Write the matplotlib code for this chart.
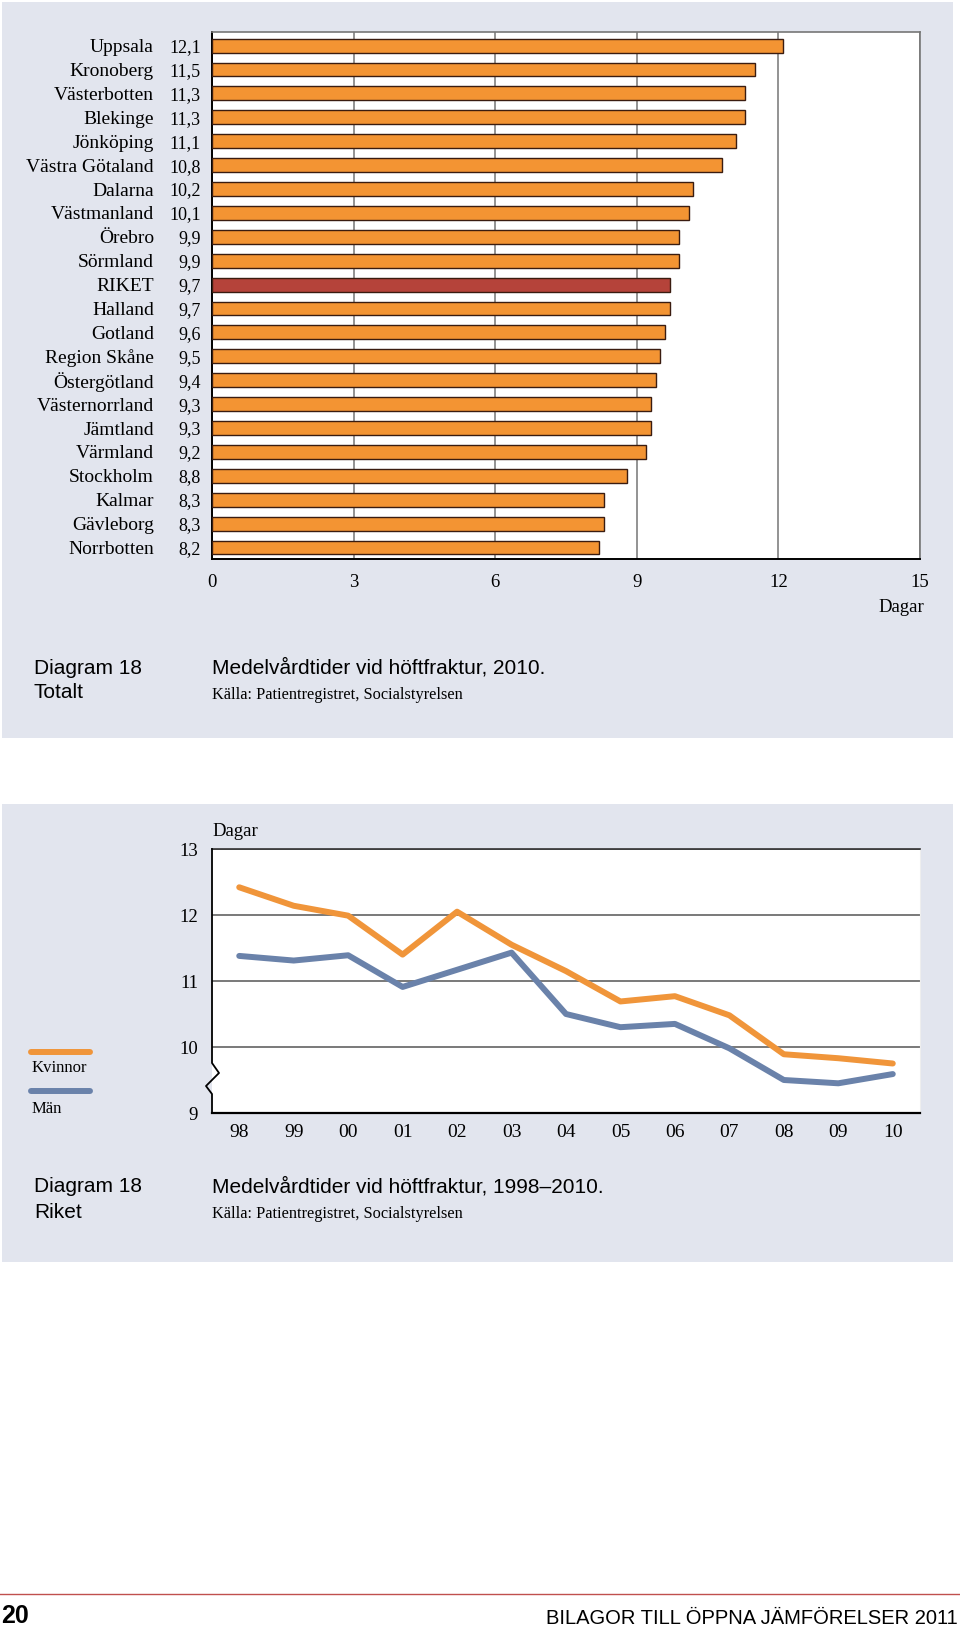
import matplotlib.pyplot as plt
import matplotlib.patches as mpatches
from matplotlib.lines import Line2D
import numpy as np

# data
lan = ['Uppsala', 'Kronoberg', 'Västerbotten', 'Blekinge', 'Jönköping',
       'Västra Götaland', 'Dalarna', 'Västmanland', 'Örebro', 'Sörmland',
       'RIKET', 'Halland', 'Gotland', 'Region Skåne', 'Östergötland',
       'Västernorrland', 'Jämtland', 'Värmland', 'Stockholm', 'Kalmar',
       'Gävleborg', 'Norrbotten']
dagar_2010 = [12.1, 11.5, 11.3, 11.3, 11.1, 10.8, 10.2, 10.1, 9.9, 9.9,
              9.7, 9.7, 9.6, 9.5, 9.4, 9.3, 9.3, 9.2, 8.8, 8.3, 8.3, 8.2]

ar = ['98', '99', '00', '01', '02', '03', '04', '05', '06', '07', '08', '09', '10']
kvinnor = [12.42, 12.14, 11.99, 11.40, 12.05, 11.55, 11.15, 10.69, 10.77, 10.48, 9.89, 9.83, 9.75]
man = [11.38, 11.31, 11.39, 10.91, 11.17, 11.43, 10.50, 10.30, 10.35, 9.98, 9.50, 9.45, 9.59]

W, H = 960, 1629
ORANGE = '#f39433'
RED = '#b5433a'
BG = '#e2e5ee'
SERIF = 'Liberation Serif'
SANS = 'Liberation Sans'


def fx(x):
    return x / W


def fy(y):
    return 1 - y / H


def axes_px(left, top, right, bottom):
    return [fx(left), fy(bottom), (right - left) / W, (bottom - top) / H]


fig = plt.figure(figsize=(W / 100, H / 100), dpi=100)
fig.patch.set_facecolor('white')

# bakgrundspaneler
for top, bottom in [(2, 738), (804, 1262)]:
    fig.patches.append(mpatches.Rectangle((fx(2), fy(bottom)), fx(951), (bottom - top) / H,
                                          transform=fig.transFigure, facecolor=BG,
                                          edgecolor='none', zorder=-10))

# ---- stapeldiagram ----
ax = fig.add_axes(axes_px(212, 32, 920, 559))
ax.set_zorder(2)
y = np.arange(len(lan))
farger = [RED if n == 'RIKET' else ORANGE for n in lan]
ax.barh(y, dagar_2010, height=0.58, color=farger, edgecolor='#3a1c10', linewidth=1.0, zorder=3)
ax.set_xlim(0, 15)
ax.set_ylim(len(lan) - 0.52, -0.57)
ax.set_xticks([0, 3, 6, 9, 12, 15])
ax.set_xticklabels(['0', '3', '6', '9', '12', '15'], fontfamily=SERIF, fontsize=13.5)
ax.set_yticks(y)
ax.set_yticklabels([f'{v:.1f}'.replace('.', ',') for v in dagar_2010], fontfamily=SERIF, fontsize=13)
ax.tick_params(length=0, pad=8)
ax.tick_params(axis='x', pad=11)
ax.grid(axis='x', color='#8a8a8a', linewidth=1.3)
ax.set_axisbelow(True)
for s in ['top', 'right']:
    ax.spines[s].set_color('#777777')
    ax.spines[s].set_linewidth(1.2)
for s in ['left', 'bottom']:
    ax.spines[s].set_color('black')
    ax.spines[s].set_linewidth(1.4)
tr = ax.get_yaxis_transform()
for yi, namn in zip(y, lan):
    ax.text(-0.082, yi, namn, transform=tr, ha='right', va='center_baseline',
            fontfamily=SERIF, fontsize=14)
fig.text(fx(924), fy(608), 'Dagar', ha='right', va='center', fontfamily=SERIF, fontsize=13.5)

fig.text(fx(34), fy(668), 'Diagram 18', ha='left', va='center', fontfamily=SANS, fontsize=15)
fig.text(fx(34), fy(693), 'Totalt', ha='left', va='center', fontfamily=SANS, fontsize=15)
fig.text(fx(212), fy(668), 'Medelvårdtider vid höftfraktur, 2010.', ha='left', va='center',
         fontfamily=SANS, fontsize=15)
fig.text(fx(212), fy(695), 'Källa: Patientregistret, Socialstyrelsen', ha='left', va='center',
         fontfamily=SERIF, fontsize=11.8)

# ---- linjediagram ----
ax2 = fig.add_axes(axes_px(212, 849, 920, 1113))
ax2.set_zorder(2)
x = np.arange(len(ar))
ax2.plot(x, kvinnor, color='#f0953a', linewidth=4.3, solid_capstyle='round', zorder=3)
ax2.plot(x, man, color='#6a82aa', linewidth=4.3, solid_capstyle='round', zorder=3)
ax2.set_xlim(-0.5, 12.5)
ax2.set_ylim(9, 13)
ax2.set_xticks(x)
ax2.set_xticklabels(ar, fontfamily=SERIF, fontsize=14)
ax2.set_yticks([9, 10, 11, 12, 13])
ax2.set_yticklabels(['9', '10', '11', '12', '13'], fontfamily=SERIF, fontsize=13.5)
ax2.tick_params(length=0)
ax2.tick_params(axis='y', pad=10)
ax2.tick_params(axis='x', pad=8)
ax2.grid(axis='y', color='#555555', linewidth=1.1)
ax2.set_axisbelow(True)
ax2.spines['top'].set_color('#333333')
ax2.spines['top'].set_linewidth(1.2)
ax2.spines['right'].set_color('#eeeeee')
ax2.spines['bottom'].set_color('black')
ax2.spines['bottom'].set_linewidth(1.6)
ax2.spines['left'].set_visible(False)
# vänster axel med brytsymbol
hpx = 264.0
wpx = 708.0
zx = [0, 0, 7, -6, 0, 0]
zy = [264, 1113 - 1063, 1113 - 1073, 1113 - 1086, 1113 - 1094, 0]
ax2.add_line(Line2D([v / wpx for v in zx], [v / hpx for v in zy], transform=ax2.transAxes,
                    color='black', linewidth=1.3, clip_on=False, zorder=5))
fig.text(fx(212), fy(831), 'Dagar', ha='left', va='center', fontfamily=SERIF, fontsize=13.5)

# förklaring
fig.add_artist(Line2D([fx(31), fx(90)], [fy(1052), fy(1052)], color='#f0953a', linewidth=4.3,
                      solid_capstyle='round'))
fig.text(fx(32), fy(1068), 'Kvinnor', ha='left', va='center', fontfamily=SERIF, fontsize=12)
fig.add_artist(Line2D([fx(31), fx(90)], [fy(1091), fy(1091)], color='#6a82aa', linewidth=4.3,
                      solid_capstyle='round'))
fig.text(fx(32), fy(1109), 'Män', ha='left', va='center', fontfamily=SERIF, fontsize=12)

fig.text(fx(34), fy(1187), 'Diagram 18', ha='left', va='center', fontfamily=SANS, fontsize=15)
fig.text(fx(34), fy(1213), 'Riket', ha='left', va='center', fontfamily=SANS, fontsize=15)
fig.text(fx(212), fy(1187), 'Medelvårdtider vid höftfraktur, 1998–2010.', ha='left', va='center',
         fontfamily=SANS, fontsize=15)
fig.text(fx(212), fy(1214), 'Källa: Patientregistret, Socialstyrelsen', ha='left', va='center',
         fontfamily=SERIF, fontsize=11.8)

# sidfot
fig.add_artist(Line2D([0, 1], [fy(1594), fy(1594)], color='#c0504d', linewidth=1.0))
fig.text(fx(1), fy(1628), '20', ha='left', va='bottom', fontfamily=SANS, fontweight='bold', fontsize=18)
fig.text(fx(958), fy(1628), 'BILAGOR TILL ÖPPNA JÄMFÖRELSER 2011', ha='right', va='bottom',
         fontfamily=SANS, fontsize=14.5)

fig.savefig('out.png', dpi=100)
